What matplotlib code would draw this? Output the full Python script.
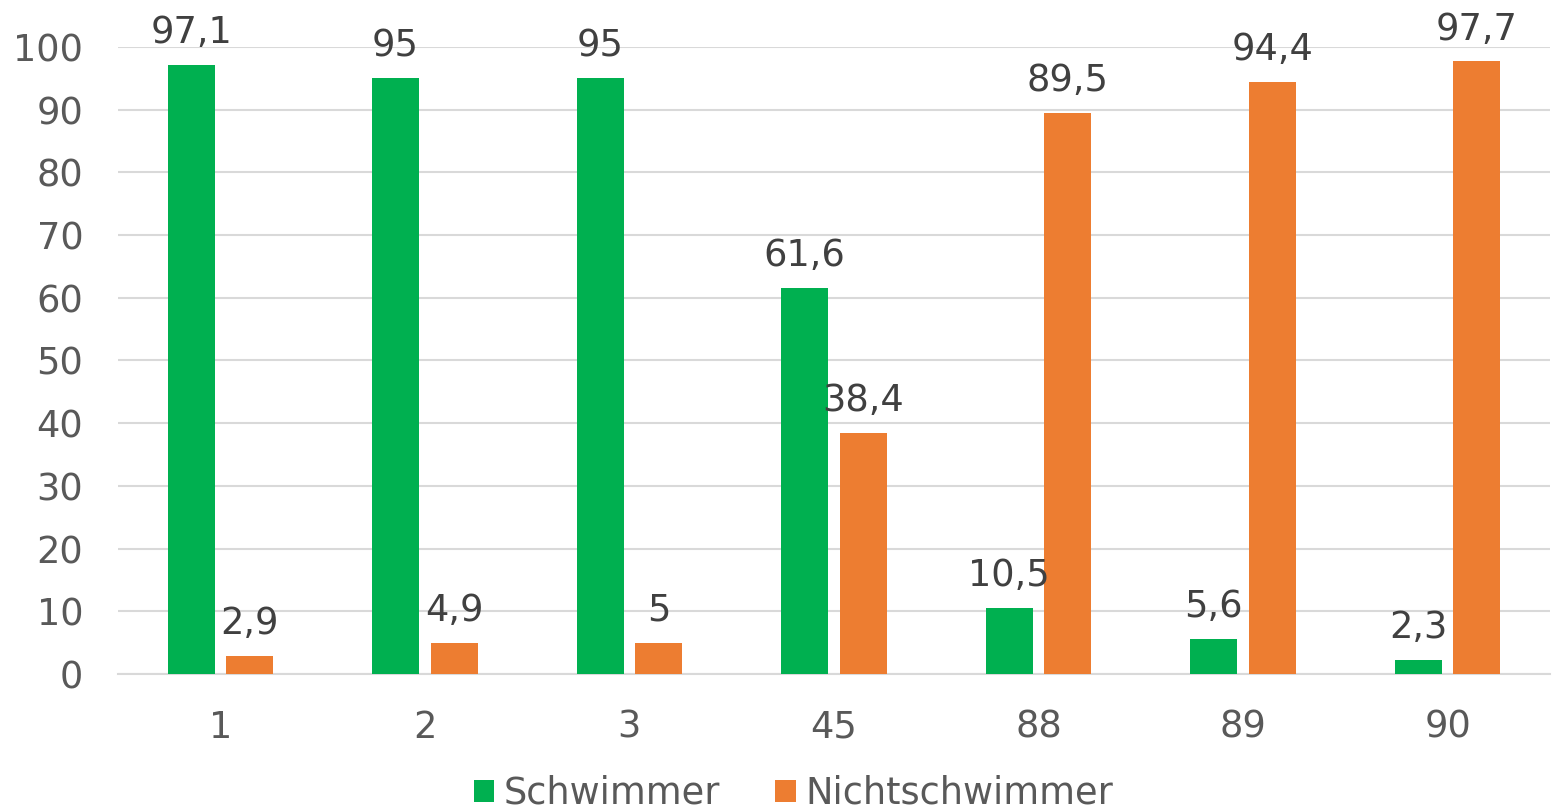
import matplotlib
matplotlib.use("Agg")
import matplotlib.pyplot as plt
import numpy as np

categories = ["1", "2", "3", "45", "88", "89", "90"]
schwimmer = [97.1, 95, 95, 61.6, 10.5, 5.6, 2.3]
nichtschwimmer = [2.9, 4.9, 5, 38.4, 89.5, 94.4, 97.7]
series_names = ["Schwimmer", "Nichtschwimmer"]
yticks = [0, 10, 20, 30, 40, 50, 60, 70, 80, 90, 100]

def fmt(v):
    s = ("%g" % v)
    return s.replace(".", ",")

plt.rcParams['font.family'] = ['DejaVu Sans']
fig = plt.figure(figsize=(15.53, 8.11), dpi=100)
ax = fig.add_axes([0.076, 0.169, 0.922, 0.773])

x = np.arange(len(categories))
w = 0.23
off = 0.143
green = "#00B050"
orange = "#ED7D31"
FS = 26.5
b1 = ax.bar(x - off, schwimmer, w, color=green, label=series_names[0], zorder=3)
b2 = ax.bar(x + off, nichtschwimmer, w, color=orange, label=series_names[1], zorder=3)

for bars, vals in ((b1, schwimmer), (b2, nichtschwimmer)):
    for r, v in zip(bars, vals):
        ax.annotate(fmt(v), (r.get_x() + r.get_width() / 2, v), xytext=(0, 10),
                    textcoords="offset points", ha="center", va="bottom",
                    fontsize=FS, color="#404040", annotation_clip=False)

ax.set_xlim(-0.5, len(categories) - 0.5)
ax.set_ylim(0, 100)
ax.set_yticks(yticks)
ax.set_yticklabels([str(t) for t in yticks])
ax.set_xticks(x)
ax.set_xticklabels(categories)
ax.tick_params(axis="both", length=0, labelsize=FS, labelcolor="#595959")
ax.tick_params(axis="x", pad=25)
ax.tick_params(axis="y", pad=25)
ax.grid(axis="y", color="#D9D9D9", linewidth=1.5, zorder=0)
for s in ["top", "right", "left"]:
    ax.spines[s].set_visible(False)
ax.spines["bottom"].set_color("#D9D9D9")
ax.spines["bottom"].set_linewidth(1.5)

leg = fig.legend(handles=[b1, b2], labels=series_names, loc="center",
                 bbox_to_anchor=(0.511, 0.022), ncol=2, frameon=False,
                 fontsize=FS, handlelength=0.55, handleheight=0.55,
                 handletextpad=0.27, columnspacing=1.5, borderpad=0.1)
for t in leg.get_texts():
    t.set_color("#595959")

fig.savefig("out.png", dpi=100)
